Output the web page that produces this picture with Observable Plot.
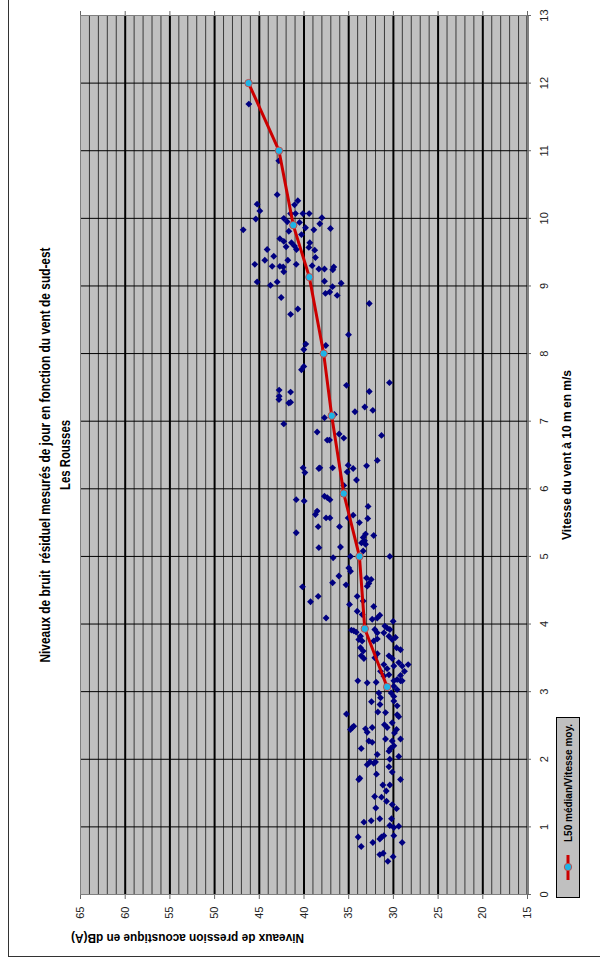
<!DOCTYPE html>
<html>
<head>
<meta charset="utf-8">
<script src="https://cdn.jsdelivr.net/npm/d3@7"></script>
<script src="https://cdn.jsdelivr.net/npm/@observablehq/plot@0.6"></script>
<style>
  html, body { margin: 0; padding: 0; background: #fff; overflow: hidden; }
  #page { position: relative; width: 600px; height: 971px; overflow: hidden; background: #fff; }
  /* the chart is laid out landscape and turned a quarter turn counter-clockwise */
  #chart { position: absolute; left: 0; top: 0; width: 971px; height: 600px;
           transform-origin: 0 0; transform: translate(0, 971px) rotate(-90deg); }
  #chart svg text { white-space: pre; }
  #border { position: absolute; left: 14px; top: 8px; width: 1200px; height: 1200px;
            border: 1px solid #333; box-sizing: border-box; }
  #legend { position: absolute; left: 73px; top: 556px; width: 181px; height: 24px;
            border: 1px solid #000; background: #c0c0c0; box-sizing: border-box; }
  #legend svg { display: block; overflow: visible; }
</style>
</head>
<body>
<div id="page"><div id="chart"><div id="border"></div></div></div>
<script>
// Titles and axis names
const titleLines = ["Niveaux de bruit  résiduel mesurés de jour en fonction du vent de sud-est", "Les Rousses"];
const levelTitle = "Niveaux de pression acoustique en dB(A)";
const speedTitle = "Vitesse du vent à 10 m en m/s";
const legendLabel = "L50 médian/Vitesse moy.";

// Axis ticks
const speedTicks = [0, 1, 2, 3, 4, 5, 6, 7, 8, 9, 10, 11, 12, 13];
const levelMajor = [15, 20, 25, 30, 35, 40, 45, 50, 55, 60, 65];
const levelMinor = d3.range(16, 65, 1).filter(v => v % 5 !== 0);

// 10-minute samples: wind speed (m/s) and residual level (dB(A))
const sampleSpeed = [
  11.69, 10.85, 10.35, 10.21, 10.11, 9.99, 9.83, 10.26, 10.20, 10.07,
  10.07, 10.07, 10.07, 10.00, 9.95, 9.94, 10.01, 9.92, 9.86, 9.83,
  9.85, 9.81, 9.76, 9.70, 9.66, 9.64, 9.64, 9.59, 9.58, 9.54,
  9.57, 9.53, 9.54, 9.44, 9.38, 9.32, 9.29, 9.29, 9.28, 9.38,
  9.32, 9.42, 9.30, 9.25, 9.25, 9.28, 9.24, 9.21, 9.06, 9.01,
  9.06, 9.07, 8.99, 9.04, 8.89, 8.91, 8.86, 8.83, 8.74, 8.66,
  8.58, 8.28, 8.14, 8.06, 8.12, 7.81, 7.76, 7.53, 7.44, 7.57,
  7.46, 7.43, 7.37, 7.32, 7.28, 7.27, 7.14, 7.21, 7.16, 7.05,
  7.10, 6.96, 6.84, 6.81, 6.72, 6.72, 6.75, 6.79, 6.42, 6.34,
  6.35, 6.30, 6.25, 6.31, 6.30, 6.31, 6.31, 6.24, 6.13, 6.05,
  5.89, 5.87, 5.84, 5.84, 5.82, 5.74, 5.67, 5.62, 5.57, 5.57,
  5.61, 5.57, 5.56, 5.50, 5.44, 5.44, 5.35, 5.33, 5.28, 5.23,
  5.18, 5.20, 5.31, 5.13, 5.14, 5.08, 4.98, 5.00, 5.00, 4.83,
  4.78, 4.71, 4.68, 4.66, 4.56, 4.60, 4.61, 4.58, 4.55, 4.41,
  4.41, 4.33, 4.34, 4.29, 4.26, 4.19, 4.14, 4.09, 4.13, 4.09,
  4.04, 4.07, 3.97, 3.94, 3.92, 3.91, 3.90, 3.88, 3.92, 3.87,
  3.87, 3.82, 3.80, 3.77, 3.82, 3.77, 3.75, 3.75, 3.78, 3.65,
  3.62, 3.65, 3.60, 3.53, 3.49, 3.56, 3.50, 3.53, 3.49, 3.43,
  3.38, 3.40, 3.30, 3.24, 3.18, 3.16, 3.40, 3.34, 3.38, 3.30,
  3.25, 3.23, 3.16, 3.13, 3.14, 3.08, 3.03, 2.98, 2.93, 2.98,
  2.91, 3.16, 3.16, 2.81, 2.86, 2.79, 2.85, 2.67, 2.70, 2.69,
  2.66, 2.63, 2.49, 2.44, 2.47, 2.45, 2.40, 2.47, 2.51, 2.47,
  2.54, 2.44, 2.39, 2.30, 2.30, 2.27, 2.25, 2.27, 2.20, 2.16,
  2.12, 2.16, 2.07, 2.04, 2.00, 1.96, 1.94, 1.92, 1.96, 1.89,
  1.78, 1.81, 1.72, 1.70, 1.70, 1.62, 1.62, 1.53, 1.45, 1.44,
  1.38, 1.33, 1.28, 1.27, 1.12, 1.12, 1.07, 1.09, 1.02, 0.99,
  1.01, 0.85, 0.85, 0.87, 0.82, 0.87, 0.77, 0.77, 0.71, 0.59,
  0.61, 0.56, 0.49
];
const sampleLevel = [
  46.17, 42.82, 43.00, 45.24, 44.94, 45.39, 46.80, 40.69, 41.06, 41.50,
  40.95, 40.13, 39.42, 42.26, 41.88, 40.50, 38.00, 38.23, 39.83, 38.90,
  37.04, 41.70, 40.28, 42.70, 42.26, 39.35, 41.40, 41.06, 42.00, 40.84,
  39.46, 38.80, 44.12, 43.38, 44.38, 45.50, 43.56, 42.70, 42.33, 41.81,
  40.87, 38.72, 39.09, 38.34, 37.71, 36.67, 36.78, 42.26, 45.24, 43.75,
  43.00, 37.71, 36.81, 35.84, 37.60, 37.12, 36.29, 42.55, 32.70, 40.69,
  41.50, 35.02, 39.80, 40.02, 37.56, 40.02, 40.28, 35.25, 32.70, 30.44,
  42.78, 41.50, 42.78, 42.80, 41.50, 41.70, 34.30, 33.20, 32.30, 37.71,
  36.60, 42.26, 38.53, 36.07, 37.40, 37.15, 35.55, 31.33, 31.80, 33.00,
  35.06, 34.50, 35.17, 36.80, 38.34, 38.23, 40.10, 39.90, 34.13, 35.55,
  37.71, 37.40, 37.10, 40.87, 39.98, 32.83, 38.53, 38.72, 37.53, 37.10,
  34.50, 35.06, 32.87, 33.80, 38.41, 36.03, 40.87, 33.12, 33.38, 33.23,
  33.12, 33.57, 32.20, 38.34, 35.92, 33.38, 36.74, 30.40, 34.80, 34.99,
  34.80, 36.10, 33.00, 32.48, 32.93, 32.75, 36.80, 35.30, 40.17, 34.05,
  38.41, 39.27, 33.38, 34.91, 32.20, 34.05, 33.49, 37.53, 31.52, 31.81,
  30.03, 32.37, 30.96, 30.70, 30.40, 34.70, 34.43, 34.16, 32.08, 31.81,
  31.07, 30.50, 29.77, 30.13, 33.68, 33.87, 33.50, 32.20, 31.80, 29.65,
  29.20, 33.68, 33.38, 33.60, 33.30, 31.80, 32.08, 30.50, 30.13, 29.40,
  29.02, 28.35, 28.76, 29.20, 29.58, 29.02, 31.07, 30.70, 29.95, 31.44,
  30.50, 31.07, 33.98, 32.93, 31.93, 29.95, 29.58, 30.25, 29.95, 31.63,
  31.44, 29.95, 29.20, 31.50, 29.95, 29.58, 32.45, 35.25, 31.74, 30.88,
  29.58, 29.40, 34.43, 34.80, 34.60, 33.12, 32.93, 32.37, 31.00, 30.70,
  30.13, 29.65, 29.88, 30.88, 29.20, 32.75, 32.37, 30.13, 29.95, 30.32,
  30.50, 33.60, 31.81, 29.40, 30.40, 32.63, 32.20, 32.93, 32.00, 30.50,
  31.89, 30.13, 33.76, 33.87, 29.20, 31.18, 30.40, 30.80, 32.10, 31.33,
  30.77, 30.13, 31.97, 29.65, 31.52, 30.21, 33.30, 32.48, 30.40, 29.95,
  29.40, 33.94, 31.33, 31.07, 31.52, 29.95, 32.30, 29.02, 33.60, 31.52,
  31.14, 30.03, 30.62
];

// L50 median level per mean wind-speed class
const medianSpeed = [3.07, 3.93, 5.00, 5.93, 7.08, 8.00, 9.13, 9.90, 11.00, 12.00];
const medianLevel = [30.7, 33.2, 33.8, 35.55, 36.9, 37.8, 39.4, 41.2, 42.8, 46.2];

const samples = sampleSpeed.map((s, i) => ({speed: s, level: sampleLevel[i]}));
const medians = medianSpeed.map((s, i) => ({speed: s, level: medianLevel[i]}));

const lineColor = "#cc0000";
const dotColor = "#1eb4e6";
const dotEdge = "#c0504d";

const chart = Plot.plot({
  width: 971,
  height: 600,
  marginLeft: 76,
  marginRight: 16,
  marginTop: 80,
  marginBottom: 73,
  style: {background: "transparent", fontFamily: "'Liberation Sans', Arial, sans-serif", fontSize: "11px", overflow: "visible"},
  x: {domain: [0, 13]},
  y: {domain: [15, 65]},
  marks: [
    Plot.frame({fill: "#c0c0c0", stroke: null}),
    Plot.gridY(levelMinor, {stroke: "#3a3a3a", strokeOpacity: 1, strokeWidth: 1}),
    Plot.gridY(levelMajor.filter(v => v < 65), {stroke: "#000", strokeOpacity: 1, strokeWidth: 2}),
    Plot.gridX(speedTicks, {stroke: "#000", strokeOpacity: 1, strokeWidth: 1}),
    Plot.frame({stroke: "#808080", strokeWidth: 1}),
    Plot.axisY(levelMajor, {anchor: "left", tickSize: 4, tickPadding: 8, stroke: "#666", label: null, fill: "#222"}),
    Plot.axisY(levelMajor, {anchor: "right", tickSize: 4, tickFormat: () => "", stroke: "#666", label: null}),
    Plot.axisX(speedTicks, {anchor: "bottom", tickSize: 4, tickPadding: 9, stroke: "#666", label: null, fill: "#222"}),
    Plot.dot(samples, {x: "speed", y: "level", symbol: "diamond2", r: 3.1, fill: "#000080", stroke: null}),
    Plot.line(medians, {x: "speed", y: "level", stroke: lineColor, strokeWidth: 3}),
    Plot.dot(medians, {x: "speed", y: "level", r: 3.7, fill: dotColor, stroke: dotEdge, strokeWidth: 1}),
    Plot.text([titleLines[0]], {text: d => d, frameAnchor: "top", dy: -40, fontWeight: "bold", fontSize: 14, fill: "#000"}),
    Plot.text([titleLines[1]], {text: d => d, frameAnchor: "top", dy: -20, fontWeight: "bold", fontSize: 14, fill: "#000"}),
    Plot.text([levelTitle], {text: d => d, frameAnchor: "left", dx: -43, rotate: -90, fontWeight: "bold", fontSize: 12, fill: "#000"}),
    Plot.text([speedTitle], {text: d => d, frameAnchor: "bottom", dy: 43, fontWeight: "bold", fontSize: 12, fill: "#000"})
  ]
});

// squeeze the titles to the narrow face used by the chart
const fitted = new Map([[titleLines[0], 415], [titleLines[1], 70], [levelTitle, 233], [speedTitle, 170]]);
d3.select(chart).selectAll("text").each(function () {
  const len = fitted.get(this.textContent);
  if (len) {
    this.setAttribute("textLength", len);
    this.setAttribute("lengthAdjust", "spacingAndGlyphs");
  }
});

const host = document.getElementById("chart");
host.appendChild(chart);

// legend
const legend = document.createElement("div");
legend.id = "legend";
legend.innerHTML = `<svg width="179" height="22">
  <line x1="17" x2="42" y1="11" y2="11" stroke="${lineColor}" stroke-width="3"></line>
  <circle cx="30" cy="11" r="3.7" fill="${dotColor}" stroke="${dotEdge}" stroke-width="1"></circle>
  <text x="55" y="11" dy="0.36em" font-family="'Liberation Sans', Arial, sans-serif" font-weight="bold" font-size="10.5"
        textLength="118" lengthAdjust="spacingAndGlyphs">${legendLabel}</text>
</svg>`;
host.appendChild(legend);
</script>
</body>
</html>
